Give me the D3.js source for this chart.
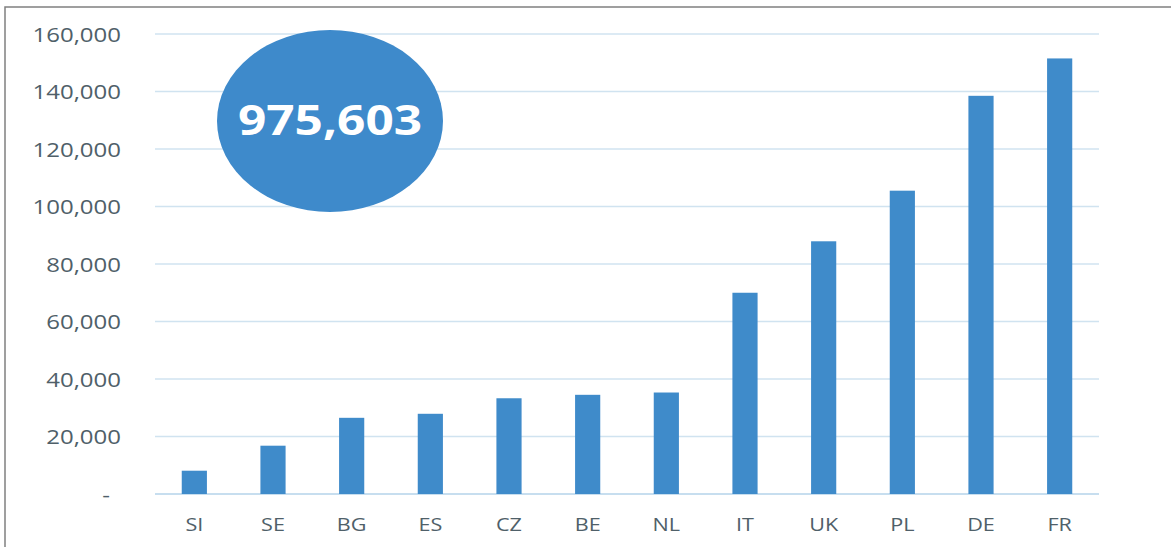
<!DOCTYPE html>
<html><head><meta charset="utf-8">
<script src="https://cdn.jsdelivr.net/npm/d3@7"></script>
<style>body{margin:0;background:#fff}svg{display:block}</style>
</head><body>
<svg id="c" width="1171" height="547"></svg>
<script>
const categories = ["SI","SE","BG","ES","CZ","BE","NL","IT","UK","PL","DE","FR"];
const values = [8100,16800,26500,27900,33300,34500,35300,70000,87900,105500,138500,151500];
const yTicks = [0,20000,40000,60000,80000,100000,120000,140000,160000];
const totalLabel = "975,603";

const svg = d3.select("#c");
const barColor = "#3f8bca";
const textColor = "#4f6069";
const font = "'Open Sans', 'Noto Sans', sans-serif";

const x = d3.scaleBand().domain(categories).range([155,1099]).paddingInner(0.68).paddingOuter(0.34);
const y = d3.scaleLinear().domain([0,160000]).range([494,34]);

// frame
svg.append("path").attr("d","M5,547V7H1171").attr("fill","none").attr("stroke","#808080").attr("stroke-width",1.5);

// gridlines
svg.append("g").selectAll("line").data(yTicks).join("line")
  .attr("x1",155).attr("x2",1099)
  .attr("y1",d=>y(d)).attr("y2",d=>y(d))
  .attr("stroke",d=>d===0?"#b5d3ea":"#d0e3f0").attr("stroke-width",1.3);

// y axis
const yAxis = d3.axisLeft(y).tickValues(yTicks).tickSize(0).tickPadding(0)
  .tickFormat(d=>d===0?"-":d3.format(",")(d));
const gy = svg.append("g").attr("transform","translate(121,0)").call(yAxis);
gy.select(".domain").remove();
gy.selectAll("text")
  .attr("x",d=>d===0?-11/1.2:0).attr("dy","0.36em")
  .attr("transform","scale(1.2,1)")
  .style("font-family",font).style("font-size","20px").style("font-weight","500").attr("fill",textColor);

// bars
svg.append("g").selectAll("rect").data(values).join("rect")
  .attr("x",(d,i)=>x(categories[i]))
  .attr("width",x.bandwidth())
  .attr("y",d=>y(d))
  .attr("height",d=>y(0)-y(d))
  .attr("fill",barColor);

// x axis
const xAxis = d3.axisBottom(x).tickSize(0).tickPadding(0);
const gx = svg.append("g").attr("transform","translate(0,494)").call(xAxis);
gx.select(".domain").remove();
gx.selectAll("text")
  .attr("y",24).attr("dy","0.71em")
  .attr("transform","scale(1.2,1)")
  .style("font-family",font).style("font-size","18px").style("font-weight","500").attr("fill",textColor);
gx.selectAll(".tick").attr("transform",d=>`translate(${x(d)+x.bandwidth()/2},0)`);

// total bubble
svg.append("ellipse").attr("cx",330).attr("cy",121).attr("rx",113).attr("ry",91).attr("fill","#3e8acb");
svg.append("text").attr("transform","translate(330,135) scale(1.18,1)")
  .attr("text-anchor","middle")
  .style("font-family",font).style("font-size","42px").style("font-weight","bold")
  .attr("fill","#ffffff").text(totalLabel);
</script>
</body></html>
